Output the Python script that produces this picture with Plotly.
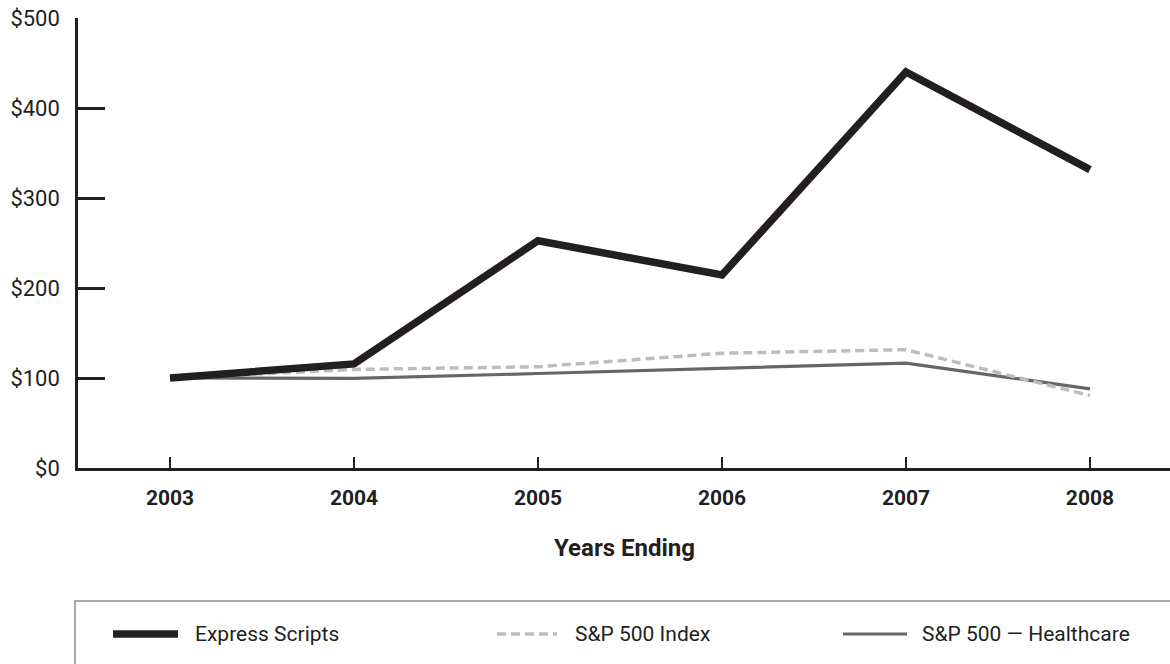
import plotly.graph_objects as go

years = [2003, 2004, 2005, 2006, 2007, 2008]
express_scripts = [100, 115.7, 252.5, 214.5, 440.0, 331.5]
sp500_index = [100, 109.5, 112.5, 127.5, 131.5, 80.5]
sp500_healthcare = [100, 99.5, 105.0, 110.5, 116.5, 88.0]
y_ticks = [0, 100, 200, 300, 400, 500]
y_tick_labels = ["$0", "$100", "$200", "$300", "$400", "$500"]
series_names = ["Express Scripts", "S&P 500 Index", "S&P 500 \u2014 Healthcare"]

FONT = "Roboto, Liberation Sans Narrow, sans-serif"
DARK = "#231f20"

W, H = 1170, 664
L, R, T, B = 78, 0, 18, 196
PW = W - L - R
PH = H - T - B

def px_x(px):
    return (px - L) / PW

def px_y(py):
    return (H - B - py) / PH

fig = go.Figure()
fig.add_trace(go.Scatter(x=years, y=sp500_healthcare, mode="lines", name=series_names[2],
                         line=dict(color="#666666", width=3.2), showlegend=False))
fig.add_trace(go.Scatter(x=years, y=sp500_index, mode="lines", name=series_names[1],
                         line=dict(color="#bdbdbd", width=3.5, dash="9px,5px"), showlegend=False))
fig.add_trace(go.Scatter(x=years, y=express_scripts, mode="lines", name=series_names[0],
                         line=dict(color=DARK, width=7.5), showlegend=False))

fig.update_layout(
    width=W, height=H,
    margin=dict(l=L, r=R, t=T, b=B),
    paper_bgcolor="white", plot_bgcolor="white",
    font=dict(family=FONT, color=DARK),
    showlegend=False,
)
fig.update_xaxes(
    range=[2002.5, 2008.435], tickvals=years, ticktext=[str(y) for y in years],
    showgrid=False, zeroline=False, showline=True, linecolor=DARK, linewidth=2.5,
    ticks="inside", ticklen=11, tickwidth=2, tickcolor=DARK,
    tickfont=dict(size=21, family=FONT, color=DARK, weight="bold"),
    ticklabelstandoff=9,
)
fig.update_yaxes(
    range=[0, 500], tickvals=y_ticks, ticktext=y_tick_labels,
    showgrid=False, zeroline=False, showline=True, linecolor=DARK, linewidth=2.5,
    ticks="inside", ticklen=27, tickwidth=2.5, tickcolor=DARK,
    tickfont=dict(size=22, family=FONT, color=DARK),
    ticklabelstandoff=11,
)

# axis title
fig.add_annotation(text="<b>Years Ending</b>", xref="paper", yref="paper",
                   x=px_x(624), y=px_y(548), showarrow=False,
                   font=dict(size=24, family=FONT, color=DARK),
                   xanchor="center", yanchor="middle")

# legend box
fig.add_shape(type="rect", xref="paper", yref="paper",
              x0=px_x(75), x1=px_x(1200), y0=px_y(601), y1=px_y(700),
              line=dict(color="#8c8c8c", width=1.5), fillcolor="rgba(0,0,0,0)")

legend_y = px_y(634)
legend_items = [
    (series_names[0], 113, 178, 193, dict(color=DARK, width=7.5)),
    (series_names[1], 497, 557, 573, dict(color="#bdbdbd", width=3.5, dash="9px,5px")),
    (series_names[2], 843, 907, 920, dict(color="#666666", width=3.2)),
]
for name, x0, x1, tx, ln in legend_items:
    fig.add_shape(type="line", xref="paper", yref="paper",
                  x0=px_x(x0), x1=px_x(x1), y0=legend_y, y1=legend_y, line=ln)
    fig.add_annotation(text=name, xref="paper", yref="paper", x=px_x(tx), y=legend_y,
                       showarrow=False, xanchor="left", yanchor="middle",
                       font=dict(size=21, family=FONT, color=DARK))

fig.write_html("out.html",
               config={"displayModeBar": False},
               post_script="document.body.style.margin='0px';document.body.style.overflow='hidden';")
